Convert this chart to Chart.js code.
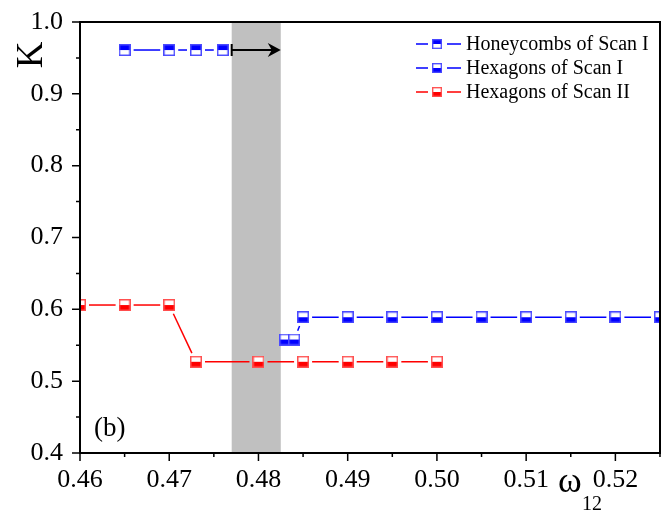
<!DOCTYPE html>
<html>
<head>
<meta charset="utf-8">
<script src="https://cdn.jsdelivr.net/npm/chart.js@4.4.1/dist/chart.umd.min.js"></script>
<style>
html, body { margin: 0; padding: 0; background: #fff; }
#wrap { width: 667px; height: 512px; }
</style>
</head>
<body>
<div id="wrap"><canvas id="myChart" width="667" height="512"></canvas></div>
<script>
// data
var honeyX = [0.465, 0.470, 0.473, 0.476]
var honeyK = [0.961, 0.961, 0.961, 0.961]
var hexIX = [0.483, 0.484, 0.485, 0.490, 0.495, 0.500, 0.505, 0.510, 0.515, 0.520, 0.525]
var hexIK = [0.558, 0.558, 0.589, 0.589, 0.589, 0.589, 0.589, 0.589, 0.589, 0.589, 0.589]
var hexIIX = [0.460, 0.465, 0.470, 0.473, 0.480, 0.485, 0.490, 0.495, 0.500]
var hexIIK = [0.606, 0.606, 0.606, 0.527, 0.527, 0.527, 0.527, 0.527, 0.527]
var seriesNames = ['Honeycombs of Scan I', 'Hexagons of Scan I', 'Hexagons of Scan II']
var shadeRange = [0.477, 0.4825]
var arrowK = 0.961
var xRange = [0.46, 0.525]
var yRange = [0.4, 1.0]

var FONT = "'Liberation Serif', 'Times New Roman', serif"
var BLUE = '#0000ff', BLUE_EDGE = '#4a4aff'
var RED = '#ff0000', RED_EDGE = '#ff5050'

function makeMarker(fill, edge, topFilled) {
    var s = 12
    var c = document.createElement('canvas')
    c.width = s; c.height = s
    var g = c.getContext('2d')
    g.fillStyle = '#fff'
    g.fillRect(0, 0, s, s)
    g.fillStyle = fill
    if (topFilled) g.fillRect(0, 0, s, s / 2)
    else g.fillRect(0, s / 2, s, s / 2)
    g.strokeStyle = edge
    g.lineWidth = 1.5
    g.strokeRect(0.75, 0.75, s - 1.5, s - 1.5)
    return c
}

var markers = [
    makeMarker(BLUE, BLUE_EDGE, true),
    makeMarker(BLUE, BLUE_EDGE, false),
    makeMarker(RED, RED_EDGE, false)
]
var lineColors = [BLUE, BLUE, RED]

function toPoints(xs, ys) {
    return xs.map((x, i) => ({ x: x, y: ys[i] }))
}

// Origin-style lines: segments stop short of each symbol
var gapLines = {
    id: 'gapLines',
    beforeDatasetsDraw(chart) {
        const ctx = chart.ctx, a = chart.chartArea
        // shaded region
        const xs = chart.scales.x
        ctx.save()
        ctx.fillStyle = '#c0c0c0'
        const x0 = xs.getPixelForValue(shadeRange[0]), x1 = xs.getPixelForValue(shadeRange[1])
        ctx.fillRect(x0, a.top, x1 - x0, a.bottom - a.top)
        ctx.beginPath()
        ctx.rect(a.left, a.top, a.right - a.left, a.bottom - a.top)
        ctx.clip()
        ctx.lineWidth = 1.5
        chart.data.datasets.forEach((ds, di) => {
            const pts = chart.getDatasetMeta(di).data
            ctx.strokeStyle = lineColors[di]
            for (let i = 0; i < pts.length - 1; i++) {
                const p = pts[i], q = pts[i + 1]
                const dx = q.x - p.x, dy = q.y - p.y
                const len = Math.sqrt(dx * dx + dy * dy)
                const ux = dx / len, uy = dy / len
                const cut = 6 / Math.max(Math.abs(ux), Math.abs(uy)) + 3
                if (len <= 2 * cut) continue
                ctx.beginPath()
                ctx.moveTo(p.x + ux * cut, p.y + uy * cut)
                ctx.lineTo(q.x - ux * cut, q.y - uy * cut)
                ctx.stroke()
            }
        })
        ctx.restore()
    },
    afterDatasetsDraw(chart) {
        const ctx = chart.ctx, a = chart.chartArea
        const xs = chart.scales.x, ys = chart.scales.y
        ctx.save()
        // arrow
        const ax0 = xs.getPixelForValue(shadeRange[0]), ax1 = xs.getPixelForValue(shadeRange[1])
        const ay = ys.getPixelForValue(arrowK)
        ctx.strokeStyle = '#000'
        ctx.lineWidth = 2
        ctx.beginPath()
        ctx.moveTo(ax0, ay - 6); ctx.lineTo(ax0, ay + 6)
        ctx.moveTo(ax0, ay); ctx.lineTo(ax1 - 3, ay)
        ctx.stroke()
        ctx.fillStyle = '#000'
        ctx.beginPath()
        ctx.moveTo(ax1, ay)
        ctx.lineTo(ax1 - 13, ay - 7)
        ctx.lineTo(ax1 - 9, ay)
        ctx.lineTo(ax1 - 13, ay + 7)
        ctx.closePath()
        ctx.fill()

        // frame
        ctx.lineWidth = 2
        ctx.strokeRect(a.left, a.top, a.right - a.left, a.bottom - a.top)
        // ticks, outward on left and bottom
        ctx.lineWidth = 1.5
        ctx.beginPath()
        for (let i = 0; i <= 13; i++) {
            const v = xRange[0] + i * 0.005
            const px = xs.getPixelForValue(v)
            ctx.moveTo(px, a.bottom)
            ctx.lineTo(px, a.bottom + (i % 2 == 0 ? 8 : 4))
        }
        for (let i = 0; i <= 12; i++) {
            const v = yRange[0] + i * 0.05
            const py = ys.getPixelForValue(v)
            ctx.moveTo(a.left, py)
            ctx.lineTo(a.left - (i % 2 == 0 ? 8 : 4), py)
        }
        ctx.stroke()

        // text labels
        ctx.fillStyle = '#000'
        ctx.textBaseline = 'middle'
        ctx.textAlign = 'left'
        ctx.font = '27px ' + FONT
        ctx.fillText('(b)', 94, 429)
        ctx.font = '36px ' + FONT
        ctx.fillText('\u03c9', 558, 483)
        ctx.font = '20px ' + FONT
        ctx.fillText('12', 582, 505)
        ctx.save()
        ctx.translate(31, 55)
        ctx.rotate(-Math.PI / 2)
        ctx.textAlign = 'center'
        ctx.font = '37px ' + FONT
        ctx.fillText('K', 0, 1)
        ctx.restore()

        // legend
        ctx.font = '20px ' + FONT
        seriesNames.forEach((name, i) => {
            const ly = 44 + i * 24
            ctx.strokeStyle = lineColors[i]
            ctx.lineWidth = 1.5
            ctx.beginPath()
            ctx.moveTo(416, ly); ctx.lineTo(428, ly)
            ctx.moveTo(447, ly); ctx.lineTo(461, ly)
            ctx.stroke()
            ctx.drawImage(markers[i], 437 - 5, ly - 5, 10, 10)
            ctx.fillStyle = '#000'
            ctx.fillText(name, 466, ly + 1)
        })
        ctx.restore()
    }
}

var data = {
    datasets: [
        { label: seriesNames[0], data: toPoints(honeyX, honeyK) },
        { label: seriesNames[1], data: toPoints(hexIX, hexIK) },
        { label: seriesNames[2], data: toPoints(hexIIX, hexIIK) }
    ].map((d, i) => Object.assign(d, {
        showLine: false,
        pointStyle: markers[i],
        pointRadius: 6,
        pointHoverRadius: 6,
        clip: 0
    }))
}

var ctx = document.getElementById('myChart').getContext('2d')
var myChart = new Chart(ctx, {
    type: 'scatter',
    data: data,
    options: {
        responsive: false,
        animation: false,
        events: [],
        layout: { padding: { top: 18, right: 3, left: 0, bottom: 0 } },
        plugins: { legend: { display: false }, tooltip: { enabled: false } },
        scales: {
            x: {
                type: 'linear',
                min: xRange[0],
                max: xRange[1],
                grid: { display: false },
                border: { display: false },
                ticks: {
                    stepSize: 0.01,
                    includeBounds: false,
                    padding: 4,
                    color: '#000',
                    font: { family: FONT, size: 26 },
                    maxRotation: 0,
                    autoSkip: false,
                    callback: v => Number(v).toFixed(2)
                },
                afterFit: s => { s.height = 59 }
            },
            y: {
                type: 'linear',
                min: yRange[0],
                max: yRange[1],
                grid: { display: false },
                border: { display: false },
                ticks: {
                    stepSize: 0.1,
                    padding: 9,
                    color: '#000',
                    font: { family: FONT, size: 26, lineHeight: 1 },
                    callback: v => Number(v).toFixed(1)
                },
                afterFit: s => { s.width = 80 }
            }
        }
    },
    plugins: [gapLines]
})
</script>
</body>
</html>
